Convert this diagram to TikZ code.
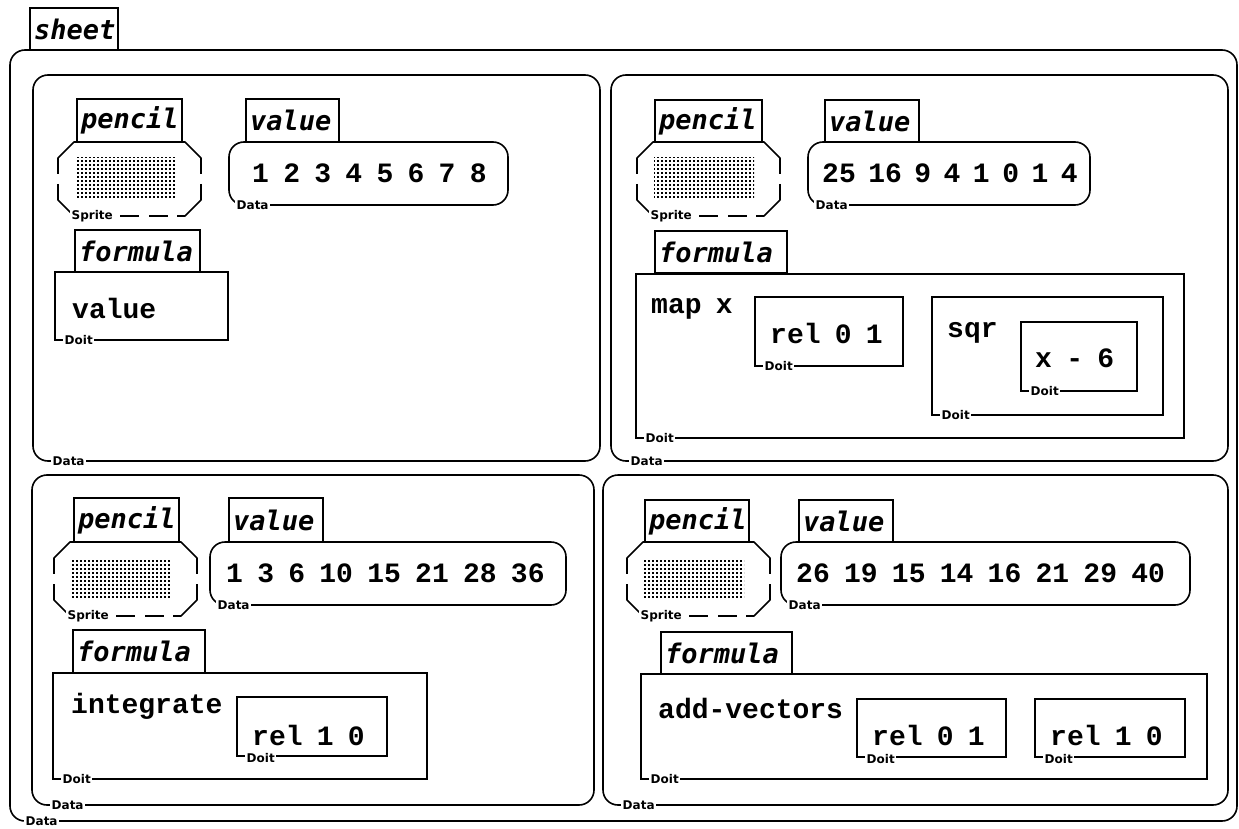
\documentclass[tikz,border=0pt]{standalone}
\usepackage{fontspec}
\newfontfamily\bodyf{Liberation Mono}[WordSpace=0.85]
\newfontfamily\tabf{DejaVu Sans Mono}
\newfontfamily\lblf{DejaVu Sans}
\usetikzlibrary{patterns}
\pgfdeclarepatternformonly{stipple}{\pgfpointorigin}{\pgfpoint{4.3pt}{4.3pt}}{\pgfpoint{4.3pt}{4.3pt}}{\pgfpathrectangle{\pgfpointorigin}{\pgfpoint{2.1pt}{2.1pt}}\pgfusepath{fill}}
\tikzset{
  bx/.style={draw, line width=1.6pt, inner sep=0pt, outer sep=0pt, anchor=north west},
  rbx/.style={bx, rounded corners=15pt},
  tabbox/.style={draw, line width=1.5pt, inner ysep=0pt, inner xsep=4pt, outer sep=0pt, anchor=north west, align=left, font=\tabf\bfseries\itshape\fontsize{27}{27}\selectfont},
  txt/.style={inner sep=0pt, anchor=west, font=\bodyf\bfseries\fontsize{28}{32}\selectfont},
  lbl/.style={fill=white, inner xsep=1.5pt, inner ysep=0.5pt, anchor=west, font=\lblf\bfseries\fontsize{12}{12}\selectfont},
  sprnode/.style={inner sep=0pt, outer sep=0pt, anchor=north west, minimum width=143pt, minimum height=74pt},
  sprline/.style={line width=1.6pt, line join=round},
}
% box: style, name, x1, y1, x2, y2
\newcommand\bxn[6]{%
  \pgfmathsetmacro\bxw{#5-#3}\pgfmathsetmacro\bxh{#6-#4}%
  \node[#1, minimum width=\bxw pt, minimum height=\bxh pt] (#2) at (#3,#4) {};}
% tab: name, x1, y1, x2, y2, text
\newcommand\tbn[6]{%
  \pgfmathsetmacro\bxw{#4-#2-8}\pgfmathsetmacro\bxh{#5-#3}%
  \node[tabbox, text width=\bxw pt, minimum height=\bxh pt] (#1) at (#2,#3) {#6};}
% sprite: name, x1, y1
\newcommand\sprn[3]{%
  \node[sprnode] (#1) at (#2,#3) {};
  \fill[pattern=stipple] ([xshift=17pt,yshift=-16pt]#1.north west) rectangle ([xshift=-26pt,yshift=18pt]#1.south east);
  \draw[sprline] ([xshift=24pt]#1.north west) -- ([xshift=16pt]#1.north west) -- ([yshift=-16pt]#1.north west) -- ([yshift=-22pt]#1.north west);
  \draw[sprline] ([xshift=-24pt]#1.north east) -- ([xshift=-16pt]#1.north east) -- ([yshift=-16pt]#1.north east) -- ([yshift=-22pt]#1.north east);
  \draw[sprline] ([xshift=24pt]#1.south west) -- ([xshift=16pt]#1.south west) -- ([yshift=16pt]#1.south west) -- ([yshift=22pt]#1.south west);
  \draw[sprline] ([xshift=-24pt]#1.south east) -- ([xshift=-16pt]#1.south east) -- ([yshift=16pt]#1.south east) -- ([yshift=22pt]#1.south east);
  \draw[sprline, dash pattern=on 19pt off 10pt, dash phase=20pt] ([xshift=24pt]#1.north west) -- ([xshift=-24pt]#1.north east);
  \draw[sprline, dash pattern=on 19pt off 10pt, dash phase=20pt] ([xshift=24pt]#1.south west) -- ([xshift=-24pt]#1.south east);
  \draw[sprline, dash pattern=on 10pt off 10pt] ([yshift=-22pt]#1.north west) -- ([yshift=22pt]#1.south west);
  \draw[sprline, dash pattern=on 10pt off 10pt] ([yshift=-22pt]#1.north east) -- ([yshift=22pt]#1.south east);
  \node[lbl] (#1-lbl) at ([xshift=12pt]#1.south west) {Sprite};}
\begin{document}
\begin{tikzpicture}[x=1pt, y=-1pt]
\useasboundingbox (0,0) rectangle (1239,829);

% sheet
\tbn{sheettab}{30}{8}{118}{50}{sheet}
\bxn{rbx}{sheet}{10}{50}{1237}{821}
\node[lbl] (sheet-lbl) at ([xshift=14pt]sheet.south west) {Data};

% ---------- panel 1 (top left)
\bxn{rbx}{p1}{33}{75}{600}{461}
\node[lbl] (p1-lbl) at ([xshift=18pt]p1.south west) {Data};
\tbn{p1pt}{77}{99}{182}{142}{pencil}
\sprn{p1s}{58}{142}
\tbn{p1vt}{246}{99}{339}{142}{value}
\bxn{rbx}{p1v}{229}{142}{508}{205}
\node[txt] (p1vtxt) at (252,173) {1 2 3 4 5 6 7 8};
\node[lbl] (p1v-lbl) at ([xshift=6pt]p1v.south west) {Data};
\tbn{p1ft}{75}{230}{200}{272}{formula}
\bxn{bx}{p1f}{55}{272}{228}{340}
\node[txt] (p1ftxt) at (72,308) {value};
\node[lbl] (p1f-lbl) at ([xshift=8pt]p1f.south west) {Doit};

% ---------- panel 2 (top right)
\bxn{rbx}{p2}{611}{75}{1228}{461}
\node[lbl] (p2-lbl) at ([xshift=18pt]p2.south west) {Data};
\tbn{p2pt}{655}{100}{762}{142}{pencil}
\sprn{p2s}{637}{142}
\tbn{p2vt}{825}{100}{919}{142}{value}
\bxn{rbx}{p2v}{808}{142}{1090}{205}
\node[txt] (p2vtxt) at (822,173) {\spaceskip=12.5pt 25 16 9 4 1 0 1 4};
\node[lbl] (p2v-lbl) at ([xshift=6pt]p2v.south west) {Data};
\tbn{p2ft}{655}{231}{787}{273}{formula}
\bxn{bx}{p2f}{636}{274}{1184}{438}
\node[txt] (p2ftxt) at (651,309) {map x};
\node[lbl] (p2f-lbl) at ([xshift=8pt]p2f.south west) {Doit};
\bxn{bx}{p2r}{755}{297}{903}{366}
\node[txt] (p2rtxt) at (770,333) {rel 0 1};
\node[lbl] (p2r-lbl) at ([xshift=8pt]p2r.south west) {Doit};
\bxn{bx}{p2q}{932}{297}{1163}{415}
\node[txt] (p2qtxt) at (947,333) {sqr};
\node[lbl] (p2q-lbl) at ([xshift=8pt]p2q.south west) {Doit};
\bxn{bx}{p2x}{1021}{322}{1137}{391}
\node[txt] (p2xtxt) at (1035,358) {x - 6};
\node[lbl] (p2x-lbl) at ([xshift=8pt]p2x.south west) {Doit};

% ---------- panel 3 (bottom left)
\bxn{rbx}{p3}{32}{475}{594}{805}
\node[lbl] (p3-lbl) at ([xshift=18pt]p3.south west) {Data};
\tbn{p3pt}{74}{498}{179}{542}{pencil}
\sprn{p3s}{54}{542}
\tbn{p3vt}{229}{498}{323}{542}{value}
\bxn{rbx}{p3v}{210}{542}{566}{605}
\node[txt] (p3vtxt) at (226,573) {1 3 6 10 15 21 28 36};
\node[lbl] (p3v-lbl) at ([xshift=6pt]p3v.south west) {Data};
\tbn{p3ft}{73}{630}{205}{673}{formula}
\bxn{bx}{p3f}{53}{673}{427}{779}
\node[txt] (p3ftxt) at (71,706) {integrate};
\node[lbl] (p3f-lbl) at ([xshift=8pt]p3f.south west) {Doit};
\bxn{bx}{p3r}{237}{697}{387}{756}
\node[txt] (p3rtxt) at (252,735) {rel 1 0};
\node[lbl, anchor=north west] (p3r-lbl) at ([xshift=8pt,yshift=3pt]p3r.south west) {Doit};

% ---------- panel 4 (bottom right)
\bxn{rbx}{p4}{603}{475}{1228}{805}
\node[lbl] (p4-lbl) at ([xshift=18pt]p4.south west) {Data};
\tbn{p4pt}{645}{500}{749}{542}{pencil}
\sprn{p4s}{627}{542}
\tbn{p4vt}{799}{500}{893}{542}{value}
\bxn{rbx}{p4v}{781}{542}{1190}{605}
\node[txt] (p4vtxt) at (796,573) {26 19 15 14 16 21 29 40};
\node[lbl] (p4v-lbl) at ([xshift=6pt]p4v.south west) {Data};
\tbn{p4ft}{661}{632}{792}{674}{formula}
\bxn{bx}{p4f}{641}{674}{1207}{779}
\node[txt] (p4ftxt) at (658,708) {add-vectors};
\node[lbl] (p4f-lbl) at ([xshift=8pt]p4f.south west) {Doit};
\bxn{bx}{p4r}{857}{699}{1006}{757}
\node[txt] (p4rtxt) at (872,735) {rel 0 1};
\node[lbl, anchor=north west] (p4r-lbl) at ([xshift=8pt,yshift=3pt]p4r.south west) {Doit};
\bxn{bx}{p4s2}{1035}{699}{1185}{757}
\node[txt] (p4s2txt) at (1050,735) {rel 1 0};
\node[lbl, anchor=north west] (p4s2-lbl) at ([xshift=8pt,yshift=3pt]p4s2.south west) {Doit};
\end{tikzpicture}
\end{document}
